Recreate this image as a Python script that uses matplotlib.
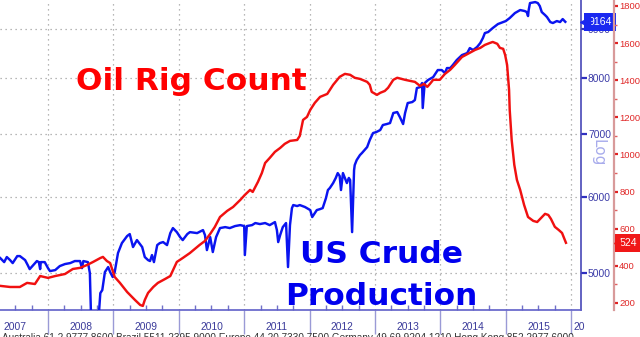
import matplotlib
matplotlib.use('Agg')
import matplotlib.pyplot as plt
import matplotlib.transforms as mtrans
from matplotlib.ticker import FixedLocator, NullLocator, NullFormatter

# ---------------- data ----------------
rig_dates = [2007.27, 2007.42, 2007.57, 2007.68, 2007.80, 2007.88, 2008.00, 2008.11, 2008.26, 2008.38,
             2008.49, 2008.60, 2008.69, 2008.80, 2008.84, 2008.90, 2008.95, 2009.02, 2009.10, 2009.21,
             2009.33, 2009.41, 2009.45, 2009.48, 2009.53, 2009.61, 2009.68, 2009.79, 2009.87, 2009.97,
             2010.06, 2010.17, 2010.32, 2010.40, 2010.48, 2010.55, 2010.63, 2010.74, 2010.83, 2010.94,
             2011.01, 2011.09, 2011.13, 2011.21, 2011.27, 2011.32, 2011.39, 2011.47, 2011.55, 2011.62,
             2011.70, 2011.81, 2011.85, 2011.90, 2011.96, 2012.01, 2012.08, 2012.16, 2012.27, 2012.36,
             2012.46, 2012.54, 2012.62, 2012.69, 2012.77, 2012.88, 2012.92, 2012.95, 2013.03, 2013.08,
             2013.15, 2013.20, 2013.28, 2013.34, 2013.46, 2013.54, 2013.61, 2013.69, 2013.75, 2013.80,
             2013.84, 2013.89, 2013.99, 2014.07, 2014.15, 2014.22, 2014.33, 2014.42, 2014.53, 2014.61,
             2014.68, 2014.76, 2014.80, 2014.87, 2014.91, 2014.96, 2014.99, 2015.02, 2015.05, 2015.06,
             2015.09, 2015.13, 2015.17, 2015.22, 2015.28, 2015.34, 2015.42, 2015.48, 2015.54, 2015.60,
             2015.65, 2015.69, 2015.75, 2015.81, 2015.86, 2015.92]
rig_counts = [292, 286, 286, 308, 302, 345, 335, 345, 356, 383,
              389, 405, 421, 442, 448, 426, 415, 340, 308, 259,
              216, 189, 184, 216, 254, 286, 308, 329, 345, 421,
              442, 469, 513, 534, 572, 609, 663, 696, 717, 755,
              782, 809, 798, 852, 900, 954, 981, 1014, 1035, 1057,
              1073, 1078, 1100, 1186, 1202, 1240, 1278, 1310, 1326, 1375,
              1418, 1434, 1429, 1413, 1407, 1391, 1375, 1337, 1321, 1332,
              1342, 1359, 1402, 1413, 1402, 1396, 1391, 1369, 1380, 1364,
              1380, 1402, 1402, 1434, 1456, 1482, 1525, 1542, 1563, 1574,
              1590, 1601, 1606, 1596, 1574, 1569, 1536, 1482, 1348, 1240,
              1078, 944, 863, 809, 728, 663, 642, 636, 658, 680,
              674, 653, 610, 593, 577, 524]

prod_dates = [2007.27, 2007.33, 2007.37, 2007.42, 2007.46, 2007.53, 2007.57, 2007.65, 2007.69, 2007.72,
              2007.79, 2007.83, 2007.86, 2007.88, 2007.89, 2007.95, 2008.00, 2008.03, 2008.11, 2008.18,
              2008.26, 2008.34, 2008.41, 2008.49, 2008.52, 2008.54, 2008.61, 2008.64, 2008.67, 2008.72,
              2008.76, 2008.80, 2008.83, 2008.87, 2008.92, 2008.95, 2008.99, 2009.02, 2009.07, 2009.13,
              2009.21, 2009.25, 2009.30, 2009.36, 2009.44, 2009.48, 2009.53, 2009.56, 2009.59, 2009.62,
              2009.67, 2009.71, 2009.76, 2009.82, 2009.87, 2009.91, 2009.97, 2010.02, 2010.06, 2010.13,
              2010.17, 2010.28, 2010.37, 2010.40, 2010.43, 2010.48, 2010.52, 2010.57, 2010.63, 2010.71,
              2010.78, 2010.86, 2010.94, 2011.00, 2011.01, 2011.04, 2011.12, 2011.17, 2011.24, 2011.32,
              2011.39, 2011.47, 2011.50, 2011.52, 2011.55, 2011.59, 2011.64, 2011.67, 2011.70, 2011.73,
              2011.75, 2011.81, 2011.85, 2011.93, 2012.01, 2012.04, 2012.07, 2012.11, 2012.16, 2012.20,
              2012.25, 2012.28, 2012.31, 2012.36, 2012.40, 2012.43, 2012.46, 2012.48, 2012.51, 2012.54,
              2012.57, 2012.60, 2012.62, 2012.65, 2012.68, 2012.69, 2012.72, 2012.77, 2012.80, 2012.88,
              2012.92, 2012.97, 2013.02, 2013.08, 2013.12, 2013.18, 2013.23, 2013.28, 2013.34, 2013.38,
              2013.43, 2013.46, 2013.50, 2013.57, 2013.61, 2013.64, 2013.69, 2013.72, 2013.73, 2013.76,
              2013.81, 2013.89, 2013.96, 2014.02, 2014.07, 2014.10, 2014.15, 2014.19, 2014.25, 2014.33,
              2014.41, 2014.45, 2014.50, 2014.56, 2014.61, 2014.65, 2014.68, 2014.73, 2014.80, 2014.88,
              2014.96, 2015.00, 2015.06, 2015.14, 2015.22, 2015.29, 2015.32, 2015.34, 2015.35, 2015.37,
              2015.45, 2015.49, 2015.52, 2015.55, 2015.60, 2015.63, 2015.68, 2015.72, 2015.75, 2015.78,
              2015.83, 2015.87, 2015.91]
prod_values = [5184, 5134, 5197, 5159, 5122, 5209, 5209, 5159, 5097, 5048,
               5110, 5147, 5134, 5048, 5134, 5134, 5060, 5024, 5036, 5085,
               5110, 5122, 5147, 5147, 5060, 5147, 5134, 5000, 4200, 4150,
               4350, 4764, 4799, 5012, 5073, 5012, 4952, 5012, 5247, 5375,
               5467, 5493, 5324, 5414, 5324, 5197, 5159, 5147, 5222, 5134,
               5349, 5375, 5388, 5349, 5506, 5573, 5519, 5453, 5414, 5493,
               5519, 5506, 5546, 5480, 5285, 5453, 5260, 5453, 5573, 5586,
               5573, 5600, 5613, 5600, 5222, 5600, 5613, 5641, 5627, 5641,
               5613, 5654, 5546, 5388, 5480, 5586, 5641, 5073, 5613, 5848,
               5891, 5877, 5891, 5863, 5820, 5723, 5765, 5820, 5834, 5848,
               5990, 6108, 6139, 6212, 6289, 6363, 6318, 6108, 6363, 6289,
               6212, 6289, 6257, 5519, 6408, 6487, 6566, 6646, 6678, 6775,
               6891, 7008, 7025, 7059, 7145, 7162, 7179, 7355, 7372, 7284,
               7162, 7355, 7534, 7552, 7589, 7811, 7830, 7906, 7444, 7906,
               7963, 8021, 8158, 8158, 8099, 8197, 8197, 8257, 8357, 8458,
               8499, 8602, 8561, 8623, 8707, 8812, 8919, 8941, 9027, 9115,
               9159, 9181, 9248, 9360, 9428, 9405, 9382, 9292, 9428, 9588,
               9611, 9588, 9519, 9382, 9315, 9270, 9159, 9137, 9159, 9181,
               9159, 9225, 9164]

years = [2007, 2008, 2009, 2010, 2011, 2012, 2013, 2014, 2015]
prod_ticks = [5000, 6000, 7000, 8000, 9000]
rig_ticks = [200, 400, 600, 800, 1000, 1200, 1400, 1600, 1800]
rig_label = "Oil Rig Count"
prod_label = ["US Crude", "Production"]

# ---------------- styling ----------------
W, H = 640, 337
BLUE = '#0a14f0'
RED = '#f01010'
TICKFONT = 'Liberation Sans'
fig = plt.figure(figsize=(W / 100, H / 100), dpi=100)
ax_bottom_px = 310
ax = fig.add_axes([0, (H - ax_bottom_px) / H, 581 / W, ax_bottom_px / H])
ax2 = ax.twinx()

ax.set_yscale('log')
ax.set_xlim(2007.266, 2016.15)
ax.set_ylim(4574, 9659)
ax2.set_ylim(162, 1832)

ax.plot(prod_dates, prod_values, color=BLUE, lw=1.75, solid_joinstyle='round', zorder=3)
ax2.plot(rig_dates, rig_counts, color=RED, lw=1.75, solid_joinstyle='round', zorder=3)

# blue (log) axis on the right
ax.yaxis.tick_right()
ax.yaxis.set_major_locator(FixedLocator(prod_ticks))
ax.yaxis.set_minor_locator(NullLocator())
ax.yaxis.set_minor_formatter(NullFormatter())
ax.set_yticklabels([str(v) for v in prod_ticks], family=TICKFONT)
ax.tick_params(axis='y', which='major', direction='out', length=4, width=1.6,
               color='#3030c0', labelcolor='#3c3ca8', labelsize=7.4, pad=1,
               left=False, right=True, labelleft=False, labelright=True)

# red (linear) axis further right
ax2.spines['right'].set_position(('outward', 33 * 0.72))
ax2.yaxis.set_major_locator(FixedLocator(rig_ticks))
ax2.yaxis.set_minor_locator(FixedLocator([v + 100 for v in rig_ticks[:-1]]))
ax2.set_yticklabels([str(v) for v in rig_ticks], family=TICKFONT)
ax2.tick_params(axis='y', which='major', direction='out', length=3.2, width=1.6,
                color='#e02020', labelcolor='#e02828', labelsize=6.8, pad=0.6)
ax2.tick_params(axis='y', which='minor', direction='out', length=2.2, width=1,
                color='#e06060')

for s in ['top', 'left']:
    ax.spines[s].set_visible(False)
for s in ['top', 'left', 'bottom']:
    ax2.spines[s].set_visible(False)
ax.spines['right'].set_color('#4848b8')
ax.spines['right'].set_linewidth(1.2)
ax.spines['bottom'].set_color('#6060c8')
ax.spines['bottom'].set_linewidth(1.2)
ax2.spines['right'].set_color('#d89a9a')
ax2.spines['right'].set_linewidth(1.6)

# x axis: year boundaries and quarter ticks
ax.xaxis.set_major_locator(FixedLocator([y + 1 for y in years]))
ax.xaxis.set_minor_locator(FixedLocator([y + q / 4 for y in years + [2016] for q in (1, 2, 3)]))
ax.xaxis.set_major_formatter(NullFormatter())
ax.tick_params(axis='x', which='major', direction='out', length=17, width=1, color='#9a9ad6')
ax.tick_params(axis='x', which='minor', direction='in', length=3.5, width=1, color='#7070c8')

ax.grid(True, which='major', axis='both', color='#a0a0a0', lw=0.9, linestyle=(0, (1, 3)))
ax2.grid(False)

xt = mtrans.blended_transform_factory(ax.transData, fig.transFigure)
for y in years:
    ax.text(y + 0.5, 1 - 327 / H, str(y), transform=xt, ha='center', va='center',
            fontsize=7.4, color='#3a3a9a', family=TICKFONT)
ax.text(2016.03, 1 - 327 / H, "20", transform=xt, ha='left', va='center',
        fontsize=7.4, color='#3a3a9a', family=TICKFONT, clip_on=False)

# big labels
fig.text(76 / W, 1 - 90 / H, rig_label, color='#ff0000', fontsize=22.5,
         fontweight='bold', family='DejaVu Sans', ha='left', va='baseline')
fig.text(381 / W, 1 - 263 / H, prod_label[0], color='#0000ee', fontsize=22.5,
         fontweight='bold', family='DejaVu Sans', ha='center', va='baseline')
fig.text(381 / W, 1 - 305 / H, prod_label[1], color='#0000ee', fontsize=22.5,
         fontweight='bold', family='DejaVu Sans', ha='center', va='baseline')

# "Log" label
fig.text(598 / W, 1 - 153 / H, "Log", rotation=270, color='#a8acec', fontsize=11,
         ha='center', va='center')

# last-value tags
last_prod = prod_values[-1]
last_rig = rig_counts[-1]
tb = mtrans.offset_copy(ax.get_yaxis_transform(), fig=fig, x=19, y=0, units='dots')
ax.text(1, last_prod, f"{last_prod}", transform=tb, ha='center', va='center',
        fontsize=7.6, color='white', clip_on=False, zorder=10, family=TICKFONT,
        bbox=dict(boxstyle='square,pad=0.38', fc='#1a28f0', ec='none'))
ta = mtrans.offset_copy(ax.get_yaxis_transform(), fig=fig, x=4, y=0, units='dots')
ax.plot([1], [last_prod], marker='<', ms=7, color='#1a28f0', transform=ta, clip_on=False, zorder=10)

tr = mtrans.offset_copy(ax2.get_yaxis_transform(), fig=fig, x=47, y=0, units='dots')
ax2.text(1, last_rig, f"{last_rig}", transform=tr, ha='center', va='center',
         fontsize=7.6, color='white', clip_on=False, zorder=10, family=TICKFONT,
         bbox=dict(boxstyle='square,pad=0.38', fc='#f01818', ec='none'))
tra = mtrans.offset_copy(ax2.get_yaxis_transform(), fig=fig, x=36, y=0, units='dots')
ax2.plot([1], [last_rig], marker='<', ms=5, color='#f01818', transform=tra, clip_on=False, zorder=10)

# footer (cut off at the bottom edge)
fig.text(2 / W, 1 - 333 / H, "Australia 61 2 9777 8600 Brazil 5511 2395 9000 Europe 44 20 7330 7500 "
         "Germany 49 69 9204 1210 Hong Kong 852 2977 6000", fontsize=7.2, color='#333333',
         ha='left', va='top', family=TICKFONT)

fig.savefig('out.png', dpi=100)
